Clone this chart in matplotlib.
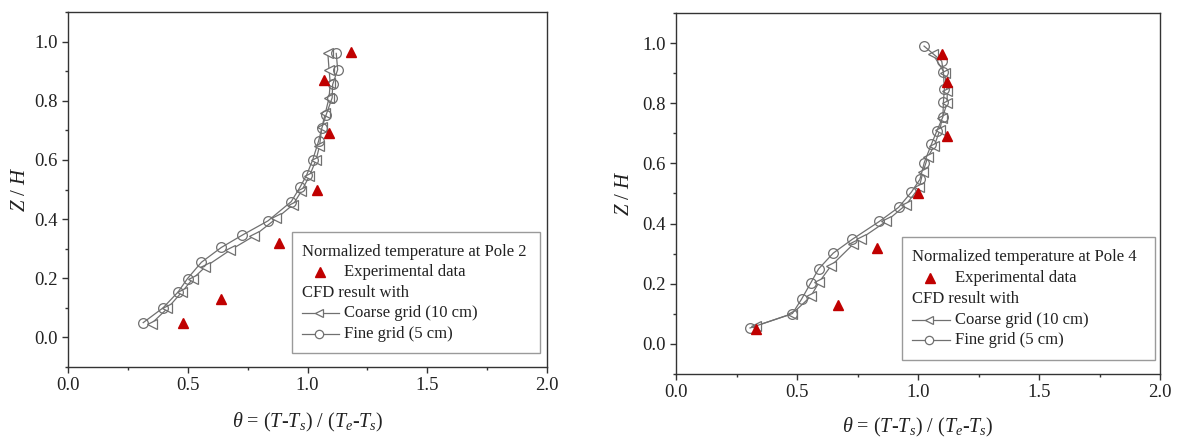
import matplotlib
matplotlib.use("Agg")
import matplotlib.pyplot as plt
from matplotlib.lines import Line2D
from matplotlib.patches import Rectangle
from matplotlib.ticker import MultipleLocator

plt.rcParams['font.family'] = ['Liberation Serif', 'DejaVu Serif']
plt.rcParams['mathtext.fontset'] = 'custom'
plt.rcParams['mathtext.rm'] = 'Liberation Serif'
plt.rcParams['mathtext.it'] = 'Liberation Serif:italic'

# ---- Pole 2 data ----
p2_exp_theta = [0.48, 0.64, 0.88, 1.04, 1.09, 1.07, 1.18]
p2_exp_z = [0.05, 0.13, 0.32, 0.50, 0.69, 0.87, 0.965]
p2_fine_theta = [0.314, 0.397, 0.46, 0.499, 0.557, 0.640, 0.726, 0.835, 0.932, 0.969,
                 0.997, 1.022, 1.046, 1.06, 1.078, 1.103, 1.105, 1.126, 1.12]
p2_fine_z = [0.05, 0.10, 0.154, 0.199, 0.254, 0.304, 0.345, 0.394, 0.459, 0.508,
             0.55, 0.601, 0.663, 0.708, 0.753, 0.81, 0.855, 0.905, 0.96]
p2_coarse_theta = [0.349, 0.415, 0.476, 0.522, 0.574, 0.675, 0.775, 0.87, 0.94, 0.974,
                   1.008, 1.036, 1.05, 1.06, 1.075, 1.09, 1.095, 1.09, 1.085]
p2_coarse_z = [0.047, 0.098, 0.154, 0.199, 0.239, 0.294, 0.342, 0.402, 0.449, 0.494,
               0.545, 0.601, 0.646, 0.71, 0.76, 0.81, 0.86, 0.905, 0.96]

# ---- Pole 4 data ----
p4_exp_theta = [0.33, 0.67, 0.83, 1.00, 1.12, 1.12, 1.10]
p4_exp_z = [0.05, 0.13, 0.32, 0.50, 0.69, 0.87, 0.965]
p4_fine_theta = [0.306, 0.481, 0.519, 0.557, 0.589, 0.65, 0.729, 0.84, 0.92, 0.973,
                 1.008, 1.026, 1.055, 1.078, 1.103, 1.105, 1.109, 1.105, 1.098, 1.025]
p4_fine_z = [0.053, 0.101, 0.149, 0.203, 0.249, 0.302, 0.348, 0.407, 0.454, 0.505,
             0.547, 0.603, 0.663, 0.708, 0.755, 0.804, 0.848, 0.903, 0.94, 0.99]
p4_coarse_theta = [0.331, 0.48, 0.557, 0.591, 0.639, 0.733, 0.764, 0.868, 0.95, 1.005,
                   1.02, 1.04, 1.067, 1.09, 1.10, 1.12, 1.121, 1.11, 1.06]
p4_coarse_z = [0.06, 0.10, 0.158, 0.205, 0.258, 0.332, 0.350, 0.407, 0.462, 0.52,
               0.57, 0.62, 0.658, 0.71, 0.75, 0.80, 0.84, 0.90, 0.965]

x_ticks = [0.0, 0.5, 1.0, 1.5, 2.0]
y_ticks = [0.0, 0.2, 0.4, 0.6, 0.8, 1.0]
legend_titles = ["Normalized temperature at Pole 2", "Normalized temperature at Pole 4"]
lbl_exp = "Experimental data"
lbl_cfd = "CFD result with"
lbl_coarse = "Coarse grid (10 cm)"
lbl_fine = "Fine grid (5 cm)"

W, H = 1180, 440
fig = plt.figure(figsize=(W / 100, H / 100), dpi=100)

RED = '#c00000'
GRAY = '#707070'
SPINE = '#333333'

panels = [
    dict(rect=(68, 12, 547, 367), exp=(p2_exp_theta, p2_exp_z),
         fine=(p2_fine_theta, p2_fine_z), coarse=(p2_coarse_theta, p2_coarse_z),
         title=legend_titles[0], box=(292, 232, 540, 353), tx=301.7, mx=320, lx=343.5,
         row0=251.5, dy=20.6, ylab_x=-0.08, xlab_y=-0.124),
    dict(rect=(676, 13, 1160, 374), exp=(p4_exp_theta, p4_exp_z),
         fine=(p4_fine_theta, p4_fine_z), coarse=(p4_coarse_theta, p4_coarse_z),
         title=legend_titles[1], box=(901.5, 236.5, 1155, 359.5), tx=911.5, mx=930, lx=955,
         row0=256.5, dy=21.0, ylab_x=-0.086, xlab_y=-0.117),
]


def fx(px):
    return px / W


def fy(py):
    return 1 - py / H


for p in panels:
    l, t, r, b = p['rect']
    ax = fig.add_axes([l / W, 1 - b / H, (r - l) / W, (b - t) / H])
    ax.plot(*p['coarse'], color=GRAY, lw=0.9, marker='<', ms=7, mfc='white',
            mec=GRAY, mew=0.9, zorder=2)
    ax.plot(*p['fine'], color=GRAY, lw=0.9, marker='o', ms=7, mfc='none',
            mec=GRAY, mew=0.9, zorder=3)
    ax.plot(*p['exp'], ls='none', marker='^', ms=7.5, color=RED, mec=RED, zorder=4)
    ax.set_xlim(0, 2.0)
    ax.set_ylim(-0.1, 1.1)
    ax.set_xticks(x_ticks)
    ax.set_yticks(y_ticks)
    ax.set_xticklabels([f"{v:.1f}" for v in x_ticks])
    ax.set_yticklabels([f"{v:.1f}" for v in y_ticks])
    ax.xaxis.set_minor_locator(MultipleLocator(0.25))
    ax.yaxis.set_minor_locator(MultipleLocator(0.1))
    ax.tick_params(which='major', direction='out', length=4.5, width=1.0,
                   labelsize=13.5, colors=SPINE, labelcolor='#222222', pad=3)
    ax.tick_params(which='minor', direction='out', length=2.5, width=1.0, colors=SPINE)
    for s in ax.spines.values():
        s.set_color(SPINE)
        s.set_linewidth(1.0)
    ax.set_ylabel(r'$Z$ / $H$', fontsize=15, color='#222222')
    ax.yaxis.set_label_coords(p['ylab_x'], 0.5)
    ax.set_xlabel(r'$\theta$ = ($T$-$T_s$) / ($T_e$-$T_s$)', fontsize=14.5, color='#222222')
    ax.xaxis.set_label_coords(0.5, p['xlab_y'])

    # legend box (drawn manually to reproduce the original layout)
    bx0, by0, bx1, by1 = p['box']
    fig.add_artist(Rectangle((fx(bx0), fy(by1)), fx(bx1) - fx(bx0), fy(by0) - fy(by1),
                             transform=fig.transFigure, fill=True, facecolor='white',
                             edgecolor='#9a9a9a', lw=1.0, zorder=5))
    rows = [p['row0'] + i * p['dy'] for i in range(5)]
    fs = 12
    fig.text(fx(p['tx']), fy(rows[0]), p['title'], fontsize=fs, va='center', ha='left',
             color='#222222', zorder=6)
    fig.add_artist(Line2D([fx(p['mx'])], [fy(rows[1])], ls='none', marker='^', ms=6.5,
                          color=RED, transform=fig.transFigure, zorder=6))
    fig.text(fx(p['lx']), fy(rows[1]), lbl_exp, fontsize=fs, va='center', ha='left',
             color='#222222', zorder=6)
    fig.text(fx(p['tx']), fy(rows[2]), lbl_cfd, fontsize=fs, va='center', ha='left',
             color='#222222', zorder=6)
    for k, (mk, lab) in enumerate([('<', lbl_coarse), ('o', lbl_fine)]):
        yy = fy(rows[3 + k])
        fig.add_artist(Line2D([fx(p['tx']), fx(p['lx'] - 5)], [yy, yy], color=GRAY, lw=0.9,
                              transform=fig.transFigure, zorder=6))
        fig.add_artist(Line2D([fx(p['mx'] - 1)], [yy], ls='none', marker=mk, ms=6,
                              mfc='white', mec=GRAY, mew=0.9,
                              transform=fig.transFigure, zorder=7))
        fig.text(fx(p['lx']), yy, lab, fontsize=fs, va='center', ha='left',
                 color='#222222', zorder=6)

fig.savefig('out.png', dpi=100)
